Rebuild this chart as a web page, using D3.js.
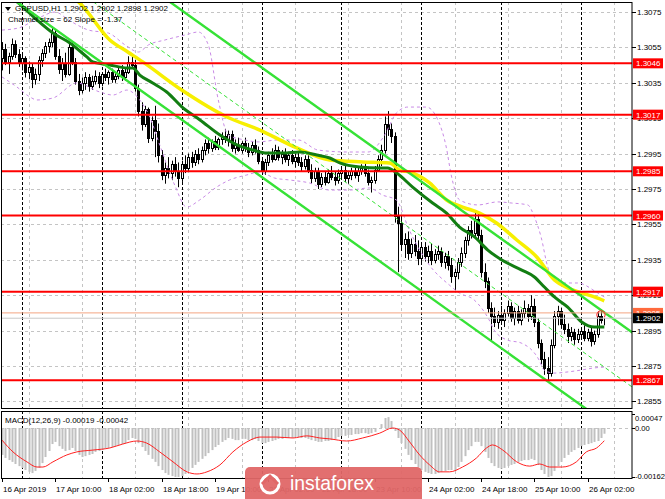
<!DOCTYPE html>
<html><head><meta charset="utf-8">
<script src="https://cdn.jsdelivr.net/npm/d3@7"></script>
<style>body{margin:0;background:#fff}svg{display:block}text{font-family:"Liberation Sans",Arial,sans-serif}</style>
</head><body><svg id="c" width="665" height="499"></svg>
<script>
// ---------- DATA ----------
const symbolTitle = "GBPUSD,H1";
const lastOHLC = ["1.2902","1.2902","1.2898","1.2902"];
const channelText = "Channel size = 62 Slope = -1.37";
const macdText = "MACD(12,26,9) -0.00019 -0.00042";
// H1 candles [open, high, low, close], bar 0 = 16 Apr 18:00
const candles = [
[1.3049,1.3058,1.3042,1.3054],[1.3054,1.3057,1.3045,1.3047],[1.3047,1.3052,1.3040,1.3050],[1.3050,1.3060,1.3048,1.3057],
[1.3057,1.3059,1.3049,1.3051],[1.3051,1.3054,1.3044,1.3046],[1.3046,1.3052,1.3042,1.3049],[1.3049,1.3050,1.3038,1.3041],
[1.3041,1.3047,1.3037,1.3044],[1.3044,1.3046,1.3032,1.3037],[1.3037,1.3043,1.3034,1.3040],[1.3040,1.3050,1.3036,1.3048],
[1.3048,1.3054,1.3044,1.3052],[1.3052,1.3058,1.3049,1.3056],[1.3056,1.3060,1.3052,1.3058],[1.3058,1.3067,1.3055,1.3063],
[1.3063,1.3065,1.3048,1.3050],[1.3050,1.3054,1.3040,1.3043],[1.3043,1.3049,1.3036,1.3046],[1.3046,1.3052,1.3038,1.3040],
[1.3040,1.3057,1.3039,1.3055],[1.3055,1.3058,1.3045,1.3047],[1.3047,1.3049,1.3034,1.3036],[1.3036,1.3040,1.3028,1.3031],
[1.3031,1.3038,1.3029,1.3035],[1.3035,1.3041,1.3031,1.3038],[1.3038,1.3040,1.3030,1.3033],[1.3033,1.3039,1.3031,1.3036],
[1.3036,1.3042,1.3034,1.3039],[1.3039,1.3041,1.3032,1.3035],[1.3035,1.3041,1.3033,1.3040],[1.3040,1.3043,1.3036,1.3038],
[1.3038,1.3042,1.3034,1.3041],[1.3041,1.3043,1.3035,1.3037],[1.3037,1.3041,1.3035,1.3039],[1.3039,1.3044,1.3037,1.3042],
[1.3042,1.3045,1.3036,1.3038],[1.3038,1.3043,1.3036,1.3041],[1.3041,1.3050,1.3040,1.3047],[1.3047,1.3051,1.3043,1.3045],
[1.3045,1.3048,1.3030,1.3032],[1.3032,1.3034,1.3016,1.3019],[1.3019,1.3024,1.3008,1.3012],[1.3012,1.3022,1.3010,1.3020],
[1.3020,1.3021,1.3001,1.3004],[1.3004,1.3016,1.3002,1.3014],[1.3014,1.3022,1.2993,1.3008],[1.3008,1.3012,1.2990,1.2994],
[1.2994,1.2997,1.2980,1.2983],[1.2983,1.2990,1.2978,1.2987],[1.2987,1.2993,1.2981,1.2984],[1.2984,1.2991,1.2980,1.2989],
[1.2989,1.2993,1.2982,1.2985],[1.2985,1.2990,1.2976,1.2981],[1.2981,1.2991,1.2979,1.2989],[1.2989,1.2994,1.2984,1.2987],
[1.2987,1.2995,1.2985,1.2993],[1.2993,1.2996,1.2987,1.2990],[1.2990,1.2997,1.2988,1.2995],[1.2995,1.2998,1.2989,1.2992],
[1.2992,1.2999,1.2990,1.2997],[1.2997,1.3003,1.2994,1.3001],[1.3001,1.3004,1.2995,1.2998],[1.2998,1.3003,1.2996,1.3002],
[1.3002,1.3005,1.2997,1.2999],[1.2999,1.3004,1.2997,1.3003],[1.3003,1.3007,1.3000,1.3005],[1.3005,1.3009,1.3001,1.3003],
[1.3003,1.3008,1.2999,1.3006],[1.3006,1.3008,1.2996,1.2998],[1.2998,1.3003,1.2995,1.3000],[1.3000,1.3004,1.2996,1.2997],
[1.2997,1.3002,1.2995,1.3001],[1.3001,1.3004,1.2996,1.2998],[1.2998,1.3001,1.2993,1.2996],[1.2996,1.3002,1.2994,1.3000],
[1.3000,1.3003,1.2995,1.2997],[1.2997,1.2999,1.2989,1.2991],[1.2991,1.2993,1.2983,1.2985],[1.2985,1.2992,1.2983,1.2990],
[1.2990,1.2996,1.2988,1.2994],[1.2994,1.2998,1.2990,1.2992],[1.2992,1.3000,1.2991,1.2997],[1.2997,1.2999,1.2991,1.2993],
[1.2993,1.2997,1.2989,1.2995],[1.2995,1.2998,1.2990,1.2992],[1.2992,1.2996,1.2988,1.2994],[1.2994,1.2997,1.2989,1.2991],
[1.2991,1.2995,1.2987,1.2993],[1.2993,1.2996,1.2988,1.2990],[1.2990,1.2993,1.2985,1.2988],[1.2988,1.2994,1.2986,1.2992],
[1.2992,1.2994,1.2984,1.2986],[1.2986,1.2989,1.2978,1.2981],[1.2981,1.2987,1.2979,1.2985],[1.2985,1.2987,1.2975,1.2978],
[1.2978,1.2984,1.2976,1.2982],[1.2982,1.2985,1.2977,1.2979],[1.2979,1.2986,1.2978,1.2984],[1.2984,1.2988,1.2980,1.2982],
[1.2982,1.2985,1.2977,1.2980],[1.2980,1.2986,1.2978,1.2984],[1.2984,1.2988,1.2981,1.2986],[1.2986,1.2988,1.2979,1.2981],
[1.2981,1.2985,1.2978,1.2983],[1.2983,1.2987,1.2980,1.2985],[1.2985,1.2988,1.2981,1.2983],[1.2983,1.2987,1.2979,1.2985],
[1.2985,1.2989,1.2983,1.2987],[1.2987,1.2990,1.2982,1.2984],[1.2984,1.2986,1.2977,1.2979],[1.2979,1.2982,1.2973,1.2980],
[1.2980,1.2988,1.2978,1.2986],[1.2986,1.2994,1.2985,1.2992],[1.2992,1.3000,1.2988,1.2997],[1.2997,1.3016,1.2995,1.3012],
[1.3012,1.3019,1.3005,1.3009],[1.3009,1.3012,1.3001,1.3005],[1.3005,1.3007,1.2956,1.2960],[1.2960,1.2965,1.2928,1.2956],
[1.2956,1.2960,1.2940,1.2944],[1.2944,1.2950,1.2936,1.2947],[1.2947,1.2951,1.2935,1.2939],[1.2939,1.2947,1.2936,1.2944],
[1.2944,1.2949,1.2937,1.2940],[1.2940,1.2946,1.2932,1.2936],[1.2936,1.2945,1.2933,1.2942],[1.2942,1.2945,1.2934,1.2937],
[1.2937,1.2943,1.2933,1.2940],[1.2940,1.2944,1.2932,1.2935],[1.2935,1.2941,1.2933,1.2938],[1.2938,1.2943,1.2935,1.2940],
[1.2940,1.2942,1.2931,1.2934],[1.2934,1.2939,1.2930,1.2937],[1.2937,1.2940,1.2929,1.2932],[1.2932,1.2936,1.2922,1.2926],
[1.2926,1.2930,1.2918,1.2928],[1.2928,1.2936,1.2924,1.2934],[1.2934,1.2942,1.2931,1.2939],[1.2939,1.2948,1.2936,1.2946],
[1.2946,1.2954,1.2943,1.2952],[1.2952,1.2957,1.2947,1.2950],[1.2950,1.2963,1.2948,1.2958],[1.2958,1.2961,1.2946,1.2949],
[1.2949,1.2952,1.2925,1.2928],[1.2928,1.2933,1.2919,1.2923],[1.2923,1.2925,1.2905,1.2908],[1.2908,1.2911,1.2889,1.2903],
[1.2903,1.2908,1.2897,1.2900],[1.2900,1.2906,1.2896,1.2904],[1.2904,1.2909,1.2899,1.2901],[1.2901,1.2907,1.2897,1.2905],
[1.2905,1.2912,1.2903,1.2909],[1.2909,1.2911,1.2900,1.2902],[1.2902,1.2908,1.2898,1.2906],[1.2906,1.2909,1.2899,1.2901],
[1.2901,1.2907,1.2898,1.2905],[1.2905,1.2912,1.2902,1.2908],[1.2908,1.2910,1.2900,1.2903],[1.2903,1.2915,1.2901,1.2909],
[1.2909,1.2913,1.2897,1.2900],[1.2900,1.2902,1.2885,1.2888],[1.2888,1.2890,1.2876,1.2879],[1.2879,1.2883,1.2870,1.2874],
[1.2874,1.2880,1.2867,1.2871],[1.2871,1.2890,1.2869,1.2887],[1.2887,1.2906,1.2885,1.2903],[1.2903,1.2909,1.2898,1.2906],
[1.2906,1.2908,1.2896,1.2899],[1.2899,1.2904,1.2893,1.2896],[1.2896,1.2899,1.2888,1.2892],[1.2892,1.2897,1.2889,1.2894],
[1.2894,1.2896,1.2887,1.2890],[1.2890,1.2896,1.2888,1.2893],[1.2893,1.2897,1.2890,1.2895],[1.2895,1.2898,1.2889,1.2891],
[1.2891,1.2896,1.2889,1.2894],[1.2894,1.2897,1.2886,1.2889],[1.2889,1.2895,1.2887,1.2893],[1.2893,1.2906,1.2891,1.2903],
[1.2903,1.2907,1.2899,1.2901],[1.2902,1.2902,1.2898,1.2902]
];
// moving averages read at sample bars [bar, price]
const maYellow = [[15,1.3090],[23.4,1.30800],[32.4,1.30592],[37.8,1.30524],[42.3,1.30468],[54,1.30309],[67.6,1.30157],[77.5,1.30083],[88.6,1.29982],[98.5,1.29914],[108.4,1.29903],[116.5,1.29897],[119.5,1.29857],[122.5,1.29846],[128.5,1.29784],[133.6,1.29688],[138.4,1.29648],[143.5,1.29614],[148.6,1.29558],[154.7,1.29462],[160.7,1.29366],[166,1.29236],[170,1.29191],[174.2,1.29163],[178,1.29140],[181,1.29118]];
const maGreen = [[2,1.3085],[6.3,1.30778],[10.5,1.30705],[15.3,1.30631],[20.4,1.30575],[25.5,1.30496],[27.3,1.30468],[32.4,1.30451],[37.5,1.30434],[39.3,1.30434],[41.4,1.30394],[45.3,1.30349],[49.5,1.30298],[54.4,1.30208],[59.5,1.30140],[65.5,1.30055],[70.6,1.29999],[75.4,1.29970],[79.6,1.29953],[84.4,1.29953],[89.5,1.29959],[94.6,1.29942],[98.5,1.29925],[101.5,1.29897],[107.5,1.29874],[113.5,1.29869],[115.9,1.29869],[118.6,1.29840],[123.4,1.29761],[129.4,1.29671],[133.6,1.29614],[137.5,1.29535],[142,1.29479],[146,1.29405],[150.2,1.29349],[156.2,1.29292],[160,1.29253],[163,1.29196],[166,1.29140],[170,1.29083],[174.2,1.28999],[178,1.28970],[181,1.28970]];
const bandUpper = [[0,1.30648],[5,1.30660],[11,1.30716],[16,1.30750],[20,1.30705],[26,1.30648],[32,1.30631],[37,1.30564],[41,1.30524],[44,1.30564],[49,1.30592],[55,1.30620],[59,1.30637],[62,1.30564],[65,1.30253],[68,1.30055],[73,1.30027],[77,1.30016],[83,1.30027],[89,1.30027],[95,1.29970],[104,1.29959],[110,1.29959],[115,1.30055],[118.5,1.30179],[122,1.30213],[127.5,1.30213],[131,1.30140],[133.5,1.29987],[135,1.29829],[137.5,1.29688],[143,1.29660],[149,1.29677],[153,1.29671],[158,1.29660],[160,1.29592],[162,1.29479],[164,1.29310],[166,1.29236],[169,1.29219],[173,1.29219],[179,1.29163],[181,1.29140]];
const bandLower = [[0,1.30383],[4.5,1.30326],[8.4,1.30270],[10.5,1.30253],[15.3,1.30264],[22.5,1.30349],[29.4,1.30298],[33.3,1.30281],[37.5,1.30309],[41.4,1.30253],[44.4,1.30157],[47.4,1.29999],[51.9,1.29772],[55.5,1.29648],[59.4,1.29688],[64.5,1.29761],[68.4,1.29801],[73.5,1.29829],[77.4,1.29846],[81.9,1.29812],[86.4,1.29801],[92.4,1.29784],[98.4,1.29744],[104.4,1.29744],[110.4,1.29756],[114.3,1.29716],[118.5,1.29688],[122.4,1.29518],[128.4,1.29321],[134.4,1.29208],[137.4,1.29163],[141.9,1.29123],[146.4,1.29010],[147.9,1.28953],[151.8,1.28897],[156,1.28880],[161.4,1.28784],[162.9,1.28727],[165.9,1.28710],[169.8,1.28716],[174,1.28727],[177.9,1.28739],[181,1.28744]];
// linear regression channel: middle line price at two bars, half width
const channelBars = [0, 190];
const channelMid = [1.31176, 1.28623];
const channelHalf = 0.00309;
const levels = [1.3046, 1.3017, 1.2985, 1.2960, 1.2917, 1.2867];
const askPrice = 1.2905, bidPrice = 1.2902;
const priceTicks = [1.3075,1.3055,1.3035,1.3015,1.2995,1.2975,1.2955,1.2935,1.2915,1.2895,1.2875,1.2855];
const timeLabels = ["16 Apr 2019","17 Apr 10:00","18 Apr 02:00","18 Apr 18:00","19 Apr 10:00","22 Apr 02:00","22 Apr 18:00","23 Apr 10:00","24 Apr 02:00","24 Apr 18:00","25 Apr 10:00","26 Apr 02:00"];
const timeLabelBars = [0,16,32,48,64,80,96,112,128,144,160,176];
const gridBars = [8,24,40,56,72,88,104,120,136,152,168,184];
const daySeparatorBars = [6,30,54,78,102,126,150,174];
// MACD main (histogram), one per bar
const macdMain = [-0.00089,-0.00099,-0.00106,-0.00112,-0.00119,-0.00126,-0.00132,-0.00139,-0.00145,-0.00149,
-0.00142,-0.00132,-0.00116,-0.00096,-0.00076,-0.00053,-0.00046,-0.00060,-0.00069,-0.00076,
-0.00073,-0.00066,-0.00076,-0.00089,-0.00096,-0.00093,-0.00089,-0.00086,-0.00079,-0.00076,
-0.00073,-0.00069,-0.00066,-0.00063,-0.00060,-0.00056,-0.00053,-0.00050,-0.00040,-0.00033,
-0.00036,-0.00050,-0.00063,-0.00076,-0.00089,-0.00102,-0.00112,-0.00126,-0.00139,-0.00149,
-0.00155,-0.00159,-0.00162,-0.00162,-0.00159,-0.00152,-0.00142,-0.00132,-0.00122,-0.00112,
-0.00102,-0.00093,-0.00083,-0.00073,-0.00063,-0.00056,-0.00046,-0.00040,-0.00033,-0.00036,
-0.00040,-0.00040,-0.00036,-0.00036,-0.00040,-0.00040,-0.00036,-0.00043,-0.00050,-0.00050,
-0.00046,-0.00043,-0.00040,-0.00036,-0.00036,-0.00033,-0.00033,-0.00033,-0.00030,-0.00030,
-0.00033,-0.00033,-0.00036,-0.00040,-0.00043,-0.00046,-0.00046,-0.00043,-0.00043,-0.00040,
-0.00036,-0.00030,-0.00026,-0.00026,-0.00023,-0.00023,-0.00020,-0.00020,-0.00017,-0.00017,
-0.00020,-0.00017,-0.00013,0.00000,0.00013,0.00033,0.00036,0.00023,-0.00010,-0.00033,
-0.00050,-0.00069,-0.00089,-0.00106,-0.00119,-0.00129,-0.00139,-0.00145,-0.00149,-0.00152,
-0.00152,-0.00149,-0.00145,-0.00142,-0.00139,-0.00139,-0.00139,-0.00129,-0.00112,-0.00093,
-0.00073,-0.00060,-0.00046,-0.00046,-0.00060,-0.00079,-0.00099,-0.00116,-0.00126,-0.00132,
-0.00135,-0.00132,-0.00126,-0.00122,-0.00119,-0.00112,-0.00109,-0.00106,-0.00106,-0.00102,
-0.00106,-0.00122,-0.00139,-0.00152,-0.00162,-0.00159,-0.00142,-0.00126,-0.00112,-0.00099,
-0.00089,-0.00079,-0.00073,-0.00066,-0.00060,-0.00056,-0.00053,-0.00050,-0.00046,-0.00043,
-0.00033,-0.00019];
const macdSignal = [[0,-0.00040],[3.3,-0.00079],[7.5,-0.00112],[10.5,-0.00129],[12.3,-0.00129],[15.3,-0.00112],[19.5,-0.00089],[22.5,-0.00079],[27.3,-0.00073],[32.4,-0.00066],[36.3,-0.00053],[40.5,-0.00043],[43.5,-0.00050],[47.4,-0.00079],[51.4,-0.00112],[55.6,-0.00145],[58.6,-0.00152],[61.6,-0.00145],[65.5,-0.00122],[69.4,-0.00079],[73.6,-0.00046],[77.5,-0.00030],[82.6,-0.00030],[87.4,-0.00033],[91.6,-0.00026],[95.5,-0.00033],[98.5,-0.00036],[103.6,-0.00043],[108.4,-0.00033],[113.5,-0.00017],[117.4,0.00000],[119.5,-0.00007],[122.5,-0.00046],[125.5,-0.00089],[128.5,-0.00122],[131.5,-0.00145],[134.5,-0.00145],[138.4,-0.00129],[142.6,-0.00099],[145.6,-0.00066],[147.4,-0.00056],[150.5,-0.00073],[154.7,-0.00112],[158.6,-0.00126],[161.6,-0.00119],[164.6,-0.00129],[168.4,-0.00129],[172.6,-0.00112],[175.6,-0.00079],[178.7,-0.00066],[181,-0.00042]];
const macdTicks = [{v:0.00047,t:"0.00047",y:418},{v:0,t:"0.00",y:428},{v:-0.00162,t:"-0.00162",y:476}];

// ---------- DRAW ----------
const svg = d3.select("#c");
const R = 632; // right edge of panels
const main = {t:2, b:408}, mac = {t:411, b:478};
const x = d3.scaleLinear().domain([0,174]).range([2,581]);
const y = d3.scaleLinear().domain([1.3075,1.2855]).range([12,401.4]);
const ym = d3.scaleLinear().domain([0,-0.00162]).range([428,477]);

const defs = svg.append("defs");
defs.append("clipPath").attr("id","cm").append("rect").attr("x",1).attr("y",main.t+1).attr("width",R-1).attr("height",main.b-main.t-1);
defs.append("clipPath").attr("id","cc").append("rect").attr("x",1).attr("y",mac.t+1).attr("width",R-1).attr("height",mac.b-mac.t-1);

const gm = svg.append("g").attr("clip-path","url(#cm)");
const gc = svg.append("g").attr("clip-path","url(#cc)");
const px = v => Math.round(v)+0.5;

// grid
gm.selectAll(".hg").data(priceTicks).join("line")
  .attr("x1",1).attr("x2",R).attr("y1",d=>px(y(d))).attr("y2",d=>px(y(d)))
  .attr("stroke","#c4c4c4").attr("stroke-dasharray","3,3");
[gm,gc].forEach((g,k)=>{
  const t = k? mac.t: main.t, b = k? mac.b: main.b;
  g.selectAll(".vg").data(gridBars).join("line")
   .attr("x1",d=>px(x(d))).attr("x2",d=>px(x(d))).attr("y1",t).attr("y2",b)
   .attr("stroke","#c4c4c4").attr("stroke-dasharray","3,3");
  g.selectAll(".ds").data(daySeparatorBars).join("line")
   .attr("x1",d=>px(x(d))).attr("x2",d=>px(x(d))).attr("y1",t).attr("y2",b)
   .attr("stroke","#000").attr("stroke-dasharray","3,2");
});
gc.append("line").attr("x1",1).attr("x2",R).attr("y1",px(ym(0))).attr("y2",px(ym(0)))
  .attr("stroke","#c4c4c4").attr("stroke-dasharray","3,3");

// candles
const cg = gm.append("g");
candles.forEach((c,i)=>{
  const cx = Math.round(x(i));
  cg.append("line").attr("x1",cx+0.5).attr("x2",cx+0.5).attr("y1",y(c[1])).attr("y2",y(c[2])).attr("stroke","#000").attr("stroke-width",1);
  const top = Math.round(y(Math.max(c[0],c[3]))), bot = Math.round(y(Math.min(c[0],c[3])));
  const bull = c[3] >= c[0];
  cg.append("rect").attr("x",cx-0.5).attr("y",top+0.5).attr("width",2).attr("height",Math.max(0,bot-top))
    .attr("fill",bull?"#fff":"#000").attr("stroke","#000").attr("stroke-width",1);
});

// bands
const lineP = d3.line().x(d=>x(d[0])).y(d=>y(d[1])).curve(d3.curveMonotoneX);
[bandUpper,bandLower].forEach(b=>gm.append("path").attr("d",lineP(b)).attr("fill","none")
  .attr("stroke","#c98be6").attr("stroke-width",1).attr("stroke-dasharray","3,3"));

// moving averages
gm.append("path").attr("d",lineP(maYellow)).attr("fill","none").attr("stroke","#f7ef00").attr("stroke-width",3.5);
gm.append("path").attr("d",lineP(maGreen)).attr("fill","none").attr("stroke","#127e12").attr("stroke-width",3);

// channel
[-1,0,1].forEach(k=>{
  gm.append("line").attr("x1",x(channelBars[0])).attr("x2",x(channelBars[1]))
    .attr("y1",y(channelMid[0]+k*channelHalf)).attr("y2",y(channelMid[1]+k*channelHalf))
    .attr("stroke","#36e236").attr("stroke-width",k?2.4:1).attr("stroke-dasharray",k?null:"4,3");
});

// horizontal levels
gm.selectAll(".lv").data(levels).join("line").attr("x1",1).attr("x2",R)
  .attr("y1",d=>y(d)).attr("y2",d=>y(d)).attr("stroke","#ff0000").attr("stroke-width",2);
gm.append("line").attr("x1",1).attr("x2",R).attr("y1",y(askPrice)).attr("y2",y(askPrice)).attr("stroke","#f4a582").attr("stroke-width",1);
gm.append("line").attr("x1",1).attr("x2",R).attr("y1",y(bidPrice)).attr("y2",y(bidPrice)).attr("stroke","#c8c8c8").attr("stroke-width",1);
// small alert circle near last bars
gm.append("path").attr("d",d3.arc()({innerRadius:3.5,outerRadius:4.5,startAngle:-2.2,endAngle:2.2}))
  .attr("transform",`translate(${x(180)},${y(askPrice)+2})`).attr("fill","#ff3030");

// MACD
gc.selectAll(".hb").data(macdMain).join("rect")
  .attr("x",(d,i)=>Math.round(x(i))-0.5).attr("width",2)
  .attr("y",d=>Math.min(ym(d),ym(0))).attr("height",d=>Math.abs(ym(d)-ym(0)))
  .attr("fill","#c0c0c0");
gc.append("path").attr("d",d3.line().x(d=>x(d[0])).y(d=>ym(d[1])).curve(d3.curveMonotoneX)(macdSignal))
  .attr("fill","none").attr("stroke","#ff2020").attr("stroke-width",1);

// borders
svg.append("rect").attr("x",1.5).attr("y",main.t+0.5).attr("width",R-1.5).attr("height",main.b-main.t).attr("fill","none").attr("stroke","#000");
svg.append("rect").attr("x",1.5).attr("y",mac.t+0.5).attr("width",R-1.5).attr("height",mac.b-mac.t).attr("fill","none").attr("stroke","#000");

// right axis
const fs = 8;
const ax = svg.append("g").attr("font-size",fs).attr("fill","#000");
priceTicks.forEach(t=>{
  ax.append("line").attr("x1",R).attr("x2",R+4).attr("y1",px(y(t))).attr("y2",px(y(t))).attr("stroke","#000");
  ax.append("text").attr("x",R+5).attr("y",y(t)+3).text(t.toFixed(4));
});
levels.forEach(l=>{
  ax.append("rect").attr("x",R+1).attr("y",y(l)-5).attr("width",30).attr("height",10).attr("fill","#ff0000");
  ax.append("text").attr("x",R+4).attr("y",y(l)+3).attr("fill","#fff").text(l.toFixed(4));
});
ax.append("rect").attr("x",R+1).attr("y",y(askPrice)-5).attr("width",30).attr("height",10).attr("fill","#ff6a3d");
ax.append("text").attr("x",R+4).attr("y",y(askPrice)+3).attr("fill","#fff").text(askPrice.toFixed(4));
ax.append("rect").attr("x",R+1).attr("y",y(bidPrice)-5).attr("width",30).attr("height",10).attr("fill","#000");
ax.append("text").attr("x",R+4).attr("y",y(bidPrice)+3).attr("fill","#fff").text(bidPrice.toFixed(4));
macdTicks.forEach(t=>{
  ax.append("line").attr("x1",R).attr("x2",R+3).attr("y1",px(ym(t.v))).attr("y2",px(ym(t.v))).attr("stroke","#000");
  ax.append("text").attr("x",R+3).attr("y",t.y+3).attr("font-size",7.6).text(t.t);
});

// time axis
timeLabels.forEach((t,k)=>{
  const xx = Math.round(x(timeLabelBars[k]));
  ax.append("line").attr("x1",xx+0.5).attr("x2",xx+0.5).attr("y1",mac.b).attr("y2",mac.b+4).attr("stroke","#000");
  ax.append("text").attr("x",xx+1).attr("y",492).text(t);
});

// header
const hd = svg.append("g").attr("font-size",fs).attr("fill","#000");
hd.append("path").attr("d","M5,7 L11,7 L8,11 Z").attr("fill","#000");
hd.append("text").attr("x",15).attr("y",11).text(symbolTitle + "  " + lastOHLC.join(" "));
hd.append("text").attr("x",8).attr("y",22).text(channelText);
svg.append("text").attr("x",5).attr("y",423).attr("font-size",fs).text(macdText);

// watermark
const wm = svg.append("g");
wm.append("rect").attr("x",245).attr("y",467).attr("width",177).attr("height",40).attr("rx",5).attr("fill","#e06767").attr("opacity",0.95);
wm.append("circle").attr("cx",270).attr("cy",484).attr("r",9).attr("fill","none").attr("stroke","#fff").attr("stroke-width",3);
wm.append("path").attr("d","M262,484 L270,476 L278,484").attr("fill","none").attr("stroke","#e06767").attr("stroke-width",3);
wm.append("text").attr("x",290).attr("y",490).attr("font-family","Lato, 'Open Sans', sans-serif").attr("font-size",21)
  .attr("fill","#fff").attr("textLength",84).attr("lengthAdjust","spacingAndGlyphs").text("instaforex");
</script></body></html>
